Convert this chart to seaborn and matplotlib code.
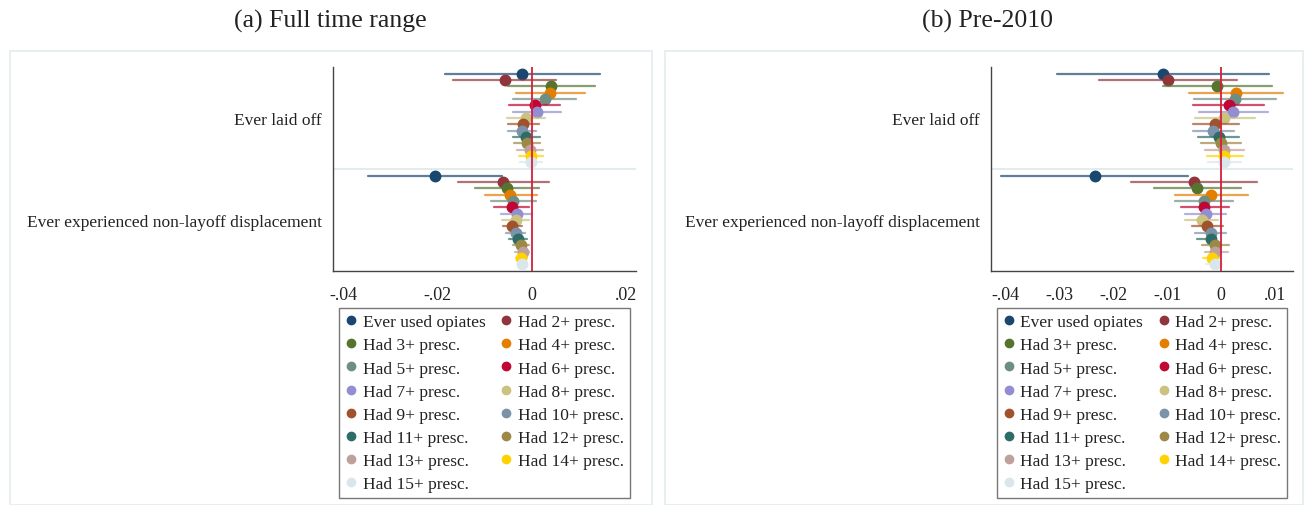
import matplotlib
matplotlib.use("Agg")
import matplotlib.pyplot as plt
import matplotlib.ticker as mticker
from matplotlib.patches import Rectangle
from matplotlib.lines import Line2D
import numpy as np
import pandas as pd
import seaborn as sns

# ---------------- data ----------------
outcomes = ["Ever laid off", "Ever experienced non-layoff displacement"]
series = ["Ever used opiates", "Had 2+ presc.", "Had 3+ presc.", "Had 4+ presc.",
          "Had 5+ presc.", "Had 6+ presc.", "Had 7+ presc.", "Had 8+ presc.",
          "Had 9+ presc.", "Had 10+ presc.", "Had 11+ presc.", "Had 12+ presc.",
          "Had 13+ presc.", "Had 14+ presc.", "Had 15+ presc."]
colors = ["#1a476f", "#90353b", "#55752f", "#e37e00", "#6e8e84", "#c10534",
          "#938dd2", "#cac27e", "#a0522d", "#7b92a8", "#2d6d66", "#9c8847",
          "#bfa19c", "#ffd200", "#d9e6eb"]
titles = ["(a) Full time range", "(b) Pre-2010"]

# Panel (a): full time range
full_laid_est = [-0.0021, -0.0058, 0.0041, 0.0038, 0.0027, 0.0006, 0.0010, -0.0013,
                 -0.0019, -0.0022, -0.0013, -0.0011, -0.0004, -0.0003, -0.0002]
full_laid_lo = [-0.0185, -0.0167, -0.0050, -0.0034, -0.0040, -0.0049, -0.0040, -0.0053,
                -0.0051, -0.0050, -0.0040, -0.0038, -0.0031, -0.0028, -0.0026]
full_laid_hi = [0.0145, 0.0051, 0.0133, 0.0113, 0.0094, 0.0060, 0.0061, 0.0028,
                0.0014, 0.0008, 0.0016, 0.0017, 0.0023, 0.0023, 0.0021]
full_disp_est = [-0.0206, -0.0062, -0.0053, -0.0046, -0.0041, -0.0043, -0.0032, -0.0035,
                 -0.0042, -0.0034, -0.0029, -0.0023, -0.0020, -0.0023, -0.0021]
full_disp_lo = [-0.0348, -0.0158, -0.0121, -0.0099, -0.0087, -0.0080, -0.0065, -0.0064,
                -0.0062, -0.0055, -0.0048, -0.0040, -0.0036, -0.0033, -0.0029]
full_disp_hi = [-0.0064, 0.0036, 0.0015, 0.0010, 0.0008, -0.0006, 0.0000, -0.0006,
                -0.0021, -0.0014, -0.0011, -0.0006, -0.0006, -0.0010, -0.0011]

# Panel (b): pre-2010
pre_laid_est = [-0.0107, -0.0099, -0.0007, 0.0028, 0.0025, 0.0014, 0.0022, 0.0006,
                -0.0011, -0.0015, -0.0004, -0.0001, 0.0006, 0.0006, 0.0006]
pre_laid_lo = [-0.0303, -0.0227, -0.0107, -0.0059, -0.0051, -0.0052, -0.0041, -0.0049,
               -0.0052, -0.0053, -0.0042, -0.0037, -0.0030, -0.0026, -0.0024]
pre_laid_hi = [0.0089, 0.0030, 0.0095, 0.0114, 0.0102, 0.0080, 0.0086, 0.0062,
               0.0033, 0.0023, 0.0033, 0.0036, 0.0043, 0.0040, 0.0037]
pre_disp_est = [-0.0233, -0.0051, -0.0044, -0.0019, -0.0032, -0.0031, -0.0028, -0.0036,
                -0.0027, -0.0019, -0.0019, -0.0012, -0.0011, -0.0017, -0.0012]
pre_disp_lo = [-0.0407, -0.0167, -0.0125, -0.0085, -0.0085, -0.0074, -0.0066, -0.0067,
               -0.0054, -0.0048, -0.0044, -0.0036, -0.0030, -0.0033, -0.0028]
pre_disp_hi = [-0.0061, 0.0066, 0.0037, 0.0049, 0.0022, 0.0014, 0.0009, -0.0006,
               0.0003, 0.0009, -0.0011, 0.0014, 0.0012, -0.0002, 0.0002]

xticks_a = [-0.04, -0.02, 0, 0.02]
xticks_b = [-0.04, -0.03, -0.02, -0.01, 0, 0.01]


def build_frame(laid, disp):
    rows = []
    for outcome, (est, lo, hi) in zip(outcomes, [laid, disp]):
        for s, e, l, h in zip(series, est, lo, hi):
            for v in (l, e, h):
                rows.append({"outcome": outcome, "series": s, "value": v})
    return pd.DataFrame(rows)


df_a = build_frame((full_laid_est, full_laid_lo, full_laid_hi),
                   (full_disp_est, full_disp_lo, full_disp_hi))
df_b = build_frame((pre_laid_est, pre_laid_lo, pre_laid_hi),
                   (pre_disp_est, pre_disp_lo, pre_disp_hi))

# ---------------- style ----------------
sns.set_style("white")
plt.rcParams["font.family"] = ["Liberation Serif", "DejaVu Serif"]
plt.rcParams["text.color"] = "#222222"

W, H = 1304, 506
fig = plt.figure(figsize=(W / 100, H / 100), dpi=100)
palette = dict(zip(series, colors))


def fx(px):
    return px / W


def fy(py):
    return 1 - py / H


# panel frames
for x0, x1 in [(10, 652), (665, 1303)]:
    fig.patches.append(Rectangle((fx(x0), fy(506)), fx(x1 - x0), fy(52) - fy(506),
                                 transform=fig.transFigure, fill=False,
                                 edgecolor="#e3ecef", linewidth=1.2))

panels = [
    (df_a, (333, 636), (-0.0423, 0.0221), xticks_a, titles[0], 330),
    (df_b, (991, 1293), (-0.0426, 0.0133), xticks_b, titles[1], 987),
]

fmt = mticker.FuncFormatter(
    lambda v, p: "0" if abs(v) < 1e-12 else ("%.2f" % v).replace("0.", "."))

for df, (px0, px1), xlim, xt, title, tx in panels:
    ax = fig.add_axes([fx(px0), fy(272), fx(px1 - px0), fy(68) - fy(272)])
    ax.axhline(0.5, color="#e2ebee", linewidth=1.5, zorder=0)
    sns.pointplot(data=df, x="value", y="outcome", hue="series",
                  order=outcomes, hue_order=series, palette=palette,
                  estimator="median", errorbar=("pi", 100), dodge=0.87,
                  linestyle="none", markers="o", markersize=6.5,
                  err_kws={"linewidth": 1.6, "alpha": 0.7},
                  legend=False, ax=ax, zorder=3)
    ax.axvline(0, color="#d41f3c", linewidth=1.3, zorder=5)
    ax.set_xlim(*xlim)
    ax.set_ylim(1.5, -0.5)
    ax.set_xticks(xt)
    ax.xaxis.set_major_formatter(fmt)
    ax.set_xlabel("")
    ax.set_ylabel("")
    for side in ["top", "right"]:
        ax.spines[side].set_visible(False)
    for side in ["left", "bottom"]:
        ax.spines[side].set_color("#444444")
        ax.spines[side].set_linewidth(1.0)
    ax.tick_params(axis="x", direction="out", length=5, width=1,
                   color="#444444", labelsize=13, labelcolor="#222222", pad=6)
    ax.tick_params(axis="y", direction="out", length=5, width=1,
                   color="#444444", labelsize=12.5, labelcolor="#222222", pad=3)

    handles = [Line2D([], [], linestyle="none", marker="o", markersize=6,
                      color=palette[s]) for s in series]
    order = list(range(0, 15, 2)) + list(range(1, 15, 2))
    leg = ax.legend([handles[i] for i in order], [series[i] for i in order],
                    ncol=2, loc="upper center", bbox_to_anchor=(0.5, -0.182),
                    borderaxespad=0, frameon=True, fancybox=False,
                    edgecolor="#555555", fontsize=12.5, handlelength=0.7,
                    handletextpad=0.3, columnspacing=0.85, labelspacing=0.4,
                    borderpad=0.35)
    leg.get_frame().set_linewidth(1.0)

    fig.text(fx(tx), fy(21), title, ha="center", va="center", fontsize=18.5)

fig.savefig("out.png", dpi=100)
